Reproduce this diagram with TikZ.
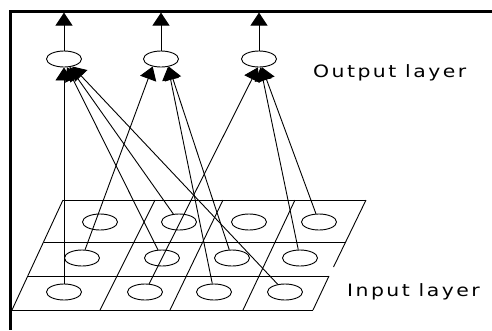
\documentclass[tikz,border=0pt]{standalone}
\usepackage{fontspec}
\newfontfamily\lblfont[LetterSpace=12]{DejaVu Sans}
\usetikzlibrary{shapes.geometric,arrows.meta}
\begin{document}
\begin{tikzpicture}[x=1pt,y=-1pt,
  unit/.style={draw,ellipse,line width=0.9pt,minimum width=35pt,minimum height=16pt,inner sep=0pt},
  link/.style={line width=0.9pt,-{Triangle[width=17pt,length=13pt]}},
  gridline/.style={line width=0.9pt},
  frameline/.style={line width=2.7pt},
  lbl/.style={anchor=base west,inner sep=0pt,font=\lblfont\fontsize{17}{20}\selectfont}]
\useasboundingbox (0,0) rectangle (492,330);
% frame
\draw[frameline] (9.35,11.3) -- (492,11.3);
\draw[frameline] (10.7,10) -- (10.7,330);
% input grid
\draw[gridline] (63,200) -- (366,200);
\draw[gridline] (43.5,242) -- (345,242);
\draw[gridline] (28,276) -- (329,276);
\draw[gridline] (12,310) -- (313,310);
\draw[gridline] (12,310) -- (63,200);
\draw[gridline] (366,200) -- (333.5,267);
\draw[gridline] (329,276) -- (313,310);
\draw[gridline] (100,310) -- (155,200);
\draw[gridline] (170,310) -- (223,200);
\draw[gridline] (243,310) -- (295,200);
% input units
\node[unit] (b1) at (64,292) {};
\node[unit] (b2) at (145,292) {};
\node[unit] (b3) at (214,292) {};
\node[unit] (b4) at (285,292) {};
\node[unit] (m1) at (82,258) {};
\node[unit] (m2) at (162,258) {};
\node[unit] (m3) at (232,258) {};
\node[unit] (m4) at (300,258) {};
\node[unit] (t1) at (100,222) {};
\node[unit] (t2) at (179,222) {};
\node[unit] (t3) at (249,222) {};
\node[unit] (t4) at (319,222) {};
% output units
\node[unit] (o1) at (64,59) {};
\node[unit] (o2) at (161,59) {};
\node[unit] (o3) at (259,59) {};
% outputs
\coordinate (a1) at (64,12.6);
\coordinate (a2) at (161,12.6);
\coordinate (a3) at (259,12.6);
\draw[link] (o1) -- (a1);
\draw[link] (o2) -- (a2);
\draw[link] (o3) -- (a3);
% connections
\draw[link] (b1) -- (o1);
\draw[link] (m2) -- (o1.290);
\draw[link] (t2) -- (o1.305);
\draw[link] (b4) -- (o1.318);
\draw[link] (m1) -- (o2.222);
\draw[link] (m3) -- (o2.316);
\draw[link] (b3) -- (o2.312);
\draw[link] (b2) -- (o3.262);
\draw[link] (m4) -- (o3.280);
\draw[link] (t4) -- (o3.290);
% labels
\node[lbl] (outlbl) at (313,77.7) {\scalebox{1.2}[1]{Output layer}};
\node[lbl] (inlbl) at (347,296.7) {\scalebox{1.2}[1]{Input layer}};
\end{tikzpicture}
\end{document}
